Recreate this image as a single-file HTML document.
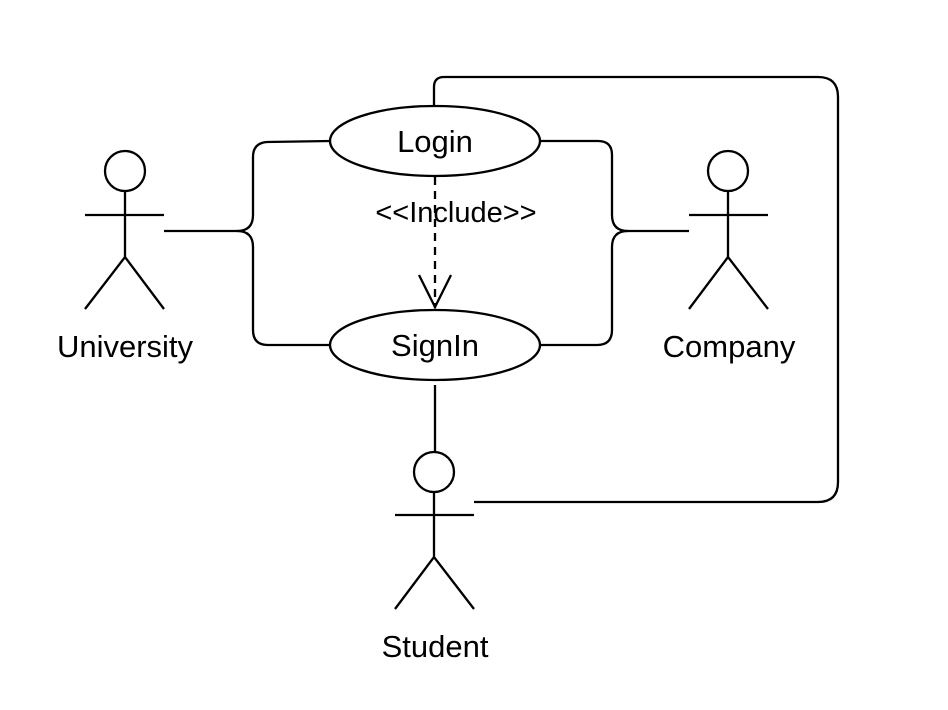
<!DOCTYPE html>
<html><head><meta charset="utf-8"><style>
html,body{margin:0;padding:0;background:#fff;}
svg{display:block;}
text{font-family:"Liberation Sans",Arial,sans-serif;fill:#000;}
</style></head><body>
<svg width="948" height="710" viewBox="0 0 948 710" xmlns="http://www.w3.org/2000/svg">
<g fill="none" stroke="#000" stroke-width="2.3">
<path d="M434,106 V87 Q434,77 444,77 H818 Q838,77 838,97 V482 Q838,502 818,502 H474"/>
<path d="M164,231 H237 Q253,231 253,215 V157 Q253,143 267,142 L330,141"/>
<path d="M237,231 Q253,231 253,247 V330 Q253,345 268,345 H330"/>
<path d="M540,141 H598 Q612,141 612,155 V215 Q612,231 628,231 H689"/>
<path d="M628,231 Q612,231 612,247 V330 Q612,345 597,345 H540"/>
<path d="M435,385 V452"/>
<path d="M435,177 V308" stroke-dasharray="8,6"/>
<path d="M419,275 L435,307 L451,275"/>
<ellipse cx="435" cy="141" rx="105" ry="35" fill="#fff"/>
<ellipse cx="435" cy="345" rx="105" ry="35" fill="#fff"/>
<circle cx="125" cy="171" r="20"/>
<path d="M125,191 V257 M85,215 H164 M85,309 L125,257 L164,309"/>
<circle cx="728" cy="171" r="20"/>
<path d="M728,191 V257 M689,215 H768 M689,309 L728,257 L768,309"/>
<circle cx="434" cy="472" r="20"/>
<path d="M434,492 V557 M395,515 H474 M395,609 L434,557 L474,609"/>
</g>
<text x="435" y="152" font-size="31" text-anchor="middle">Login</text>
<text x="435" y="356" font-size="31" text-anchor="middle">SignIn</text>
<text x="456" y="222" font-size="29" text-anchor="middle">&lt;&lt;Include&gt;&gt;</text>
<text x="125" y="357" font-size="31" text-anchor="middle">University</text>
<text x="729" y="357" font-size="31" text-anchor="middle">Company</text>
<text x="435" y="657" font-size="31" text-anchor="middle">Student</text>
</svg>
</body></html>
